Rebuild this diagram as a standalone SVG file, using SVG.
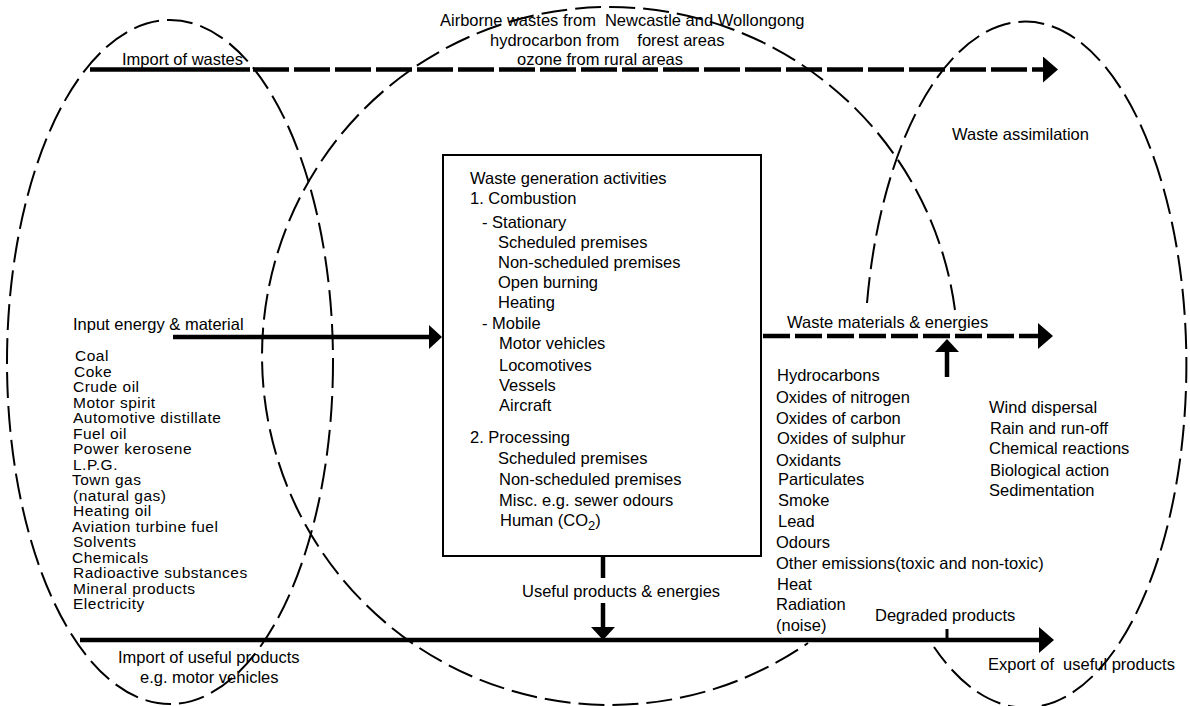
<svg xmlns="http://www.w3.org/2000/svg" width="1190" height="706" viewBox="0 0 1190 706">
<style>
  .t { font-family: "Liberation Sans", Arial, Helvetica, sans-serif; font-size: 16.5px; fill: #000; }
  .l { font-size: 15.5px; letter-spacing: 0.5px; }
  .region { fill: none; stroke: #000; stroke-width: 2; stroke-dasharray: 26 8; }
  .flow { fill: none; stroke: #000; stroke-width: 4.5; }
  .dash1 { stroke-dasharray: 36 5; }
  .dash2 { stroke-dasharray: 27 5; }
  .box { fill: none; stroke: #000; stroke-width: 2; }
</style>
<defs>
  <marker id="ah" markerUnits="userSpaceOnUse" markerWidth="15" markerHeight="26" refX="0" refY="13" orient="auto" viewBox="0 0 15 26">
    <path d="M0,0 L15,13 L0,26 Z" fill="#000"/>
  </marker>
  <marker id="ahs" markerUnits="userSpaceOnUse" markerWidth="13" markerHeight="24" refX="0" refY="12" orient="auto" viewBox="0 0 13 24">
    <path d="M0,0 L13,12 L0,24 Z" fill="#000"/>
  </marker>
</defs>
<rect width="1190" height="706" fill="#fff"/>

<g id="regions">
  <ellipse id="import-region" class="region" cx="170" cy="362" rx="163" ry="342"/>
  <path id="urban-region" class="region" d="M955 310 A348 349 0 1 0 808 643"/>
  <path id="assimilation-region" class="region" d="M867 303 A161 343 0 1 1 934 647"/>
</g>

<g id="connectors">
  <path class="flow" d="M90 69.5 H250"/>
  <path class="flow dash1" d="M253 69.5 H1043" marker-end="url(#ah)"/>
  <path class="flow" d="M173 337 H429" marker-end="url(#ahs)"/>
  <path class="flow dash2" d="M763 336 H1038" marker-end="url(#ah)"/>
  <path class="flow" d="M80 640 H1039" marker-end="url(#ah)"/>
  <path class="flow" d="M603 556 V578"/>
  <path class="flow" d="M603 603 V627" marker-end="url(#ahs)"/>
  <path class="flow" d="M947 377 V352" marker-end="url(#ahs)"/>
  <path d="M947 629 V640" stroke="#000" stroke-width="3"/>
</g>

<g id="import-wastes">
  <text class="t" x="122" y="65">Import of wastes</text>
</g>

<g id="airborne">
  <text class="t" x="440" y="26">Airborne wastes from<tspan dx="9">Newcastle and Wollongong</tspan></text>
  <text class="t" x="490" y="45.5">hydrocarbon from<tspan dx="18">forest areas</tspan></text>
  <text class="t" x="517" y="65">ozone from rural areas</text>
</g>

<g id="waste-assimilation">
  <text class="t" x="952" y="140">Waste assimilation</text>
</g>

<g id="input">
  <text class="t" x="73" y="330">Input energy &amp; material</text>
  <text class="t l" x="75" y="361">Coal</text>
  <text class="t l" x="74" y="376.5">Coke</text>
  <text class="t l" x="73" y="392">Crude oil</text>
  <text class="t l" x="73" y="407.5">Motor spirit</text>
  <text class="t l" x="73" y="423">Automotive distillate</text>
  <text class="t l" x="73" y="438.5">Fuel oil</text>
  <text class="t l" x="73" y="454">Power kerosene</text>
  <text class="t l" x="73" y="469.5">L.P.G.</text>
  <text class="t l" x="72" y="485">Town gas</text>
  <text class="t l" x="73" y="500.5">(natural gas)</text>
  <text class="t l" x="73" y="516">Heating oil</text>
  <text class="t l" x="72" y="531.5">Aviation turbine fuel</text>
  <text class="t l" x="73" y="547">Solvents</text>
  <text class="t l" x="72" y="562.5">Chemicals</text>
  <text class="t l" x="73" y="578">Radioactive substances</text>
  <text class="t l" x="73" y="593.5">Mineral products</text>
  <text class="t l" x="73" y="609">Electricity</text>
</g>

<g id="import-products">
  <text class="t" x="118" y="663">Import of useful products</text>
  <text class="t" x="140" y="683">e.g. motor vehicles</text>
</g>

<g id="waste-generation">
  <rect class="box" x="443" y="155" width="318" height="401"/>
  <text class="t" x="470" y="184">Waste generation activities</text>
  <text class="t" x="470" y="204">1. Combustion</text>
  <text class="t" x="482" y="228">- Stationary</text>
  <text class="t" x="498" y="248">Scheduled premises</text>
  <text class="t" x="498" y="268">Non-scheduled premises</text>
  <text class="t" x="498" y="288">Open burning</text>
  <text class="t" x="498" y="308">Heating</text>
  <text class="t" x="482" y="329">- Mobile</text>
  <text class="t" x="499" y="349">Motor vehicles</text>
  <text class="t" x="499" y="371">Locomotives</text>
  <text class="t" x="499" y="391">Vessels</text>
  <text class="t" x="499" y="411">Aircraft</text>
  <text class="t" x="470" y="443">2. Processing</text>
  <text class="t" x="498" y="463.5">Scheduled premises</text>
  <text class="t" x="499" y="485">Non-scheduled premises</text>
  <text class="t" x="499" y="506">Misc. e.g. sewer odours</text>
  <text class="t" x="500" y="526">Human (CO<tspan dy="4" font-size="13">2</tspan><tspan dy="-4">)</tspan></text>
</g>

<g id="useful-products">
  <text class="t" x="522" y="597">Useful products &amp; energies</text>
</g>

<g id="waste-materials">
  <text class="t" x="787" y="328">Waste materials &amp; energies</text>
  <text class="t" x="777" y="381">Hydrocarbons</text>
  <text class="t" x="776" y="403">Oxides of nitrogen</text>
  <text class="t" x="776" y="424">Oxides of carbon</text>
  <text class="t" x="777" y="444">Oxides of sulphur</text>
  <text class="t" x="776" y="466">Oxidants</text>
  <text class="t" x="778" y="485">Particulates</text>
  <text class="t" x="778" y="506">Smoke</text>
  <text class="t" x="778" y="527">Lead</text>
  <text class="t" x="776" y="548">Odours</text>
  <text class="t" x="776" y="569">Other emissions(toxic and non-toxic)</text>
  <text class="t" x="777" y="590">Heat</text>
  <text class="t" x="776" y="610">Radiation</text>
  <text class="t" x="776" y="631">(noise)</text>
</g>

<g id="assimilation-processes">
  <text class="t" x="989" y="413">Wind dispersal</text>
  <text class="t" x="990" y="434">Rain and run-off</text>
  <text class="t" x="989" y="454">Chemical reactions</text>
  <text class="t" x="990" y="476">Biological action</text>
  <text class="t" x="989" y="496">Sedimentation</text>
</g>

<g id="degraded">
  <text class="t" x="875" y="621">Degraded products</text>
</g>

<g id="export">
  <text class="t" x="988" y="670">Export of<tspan dx="9">useful products</tspan></text>
</g>
</svg>
